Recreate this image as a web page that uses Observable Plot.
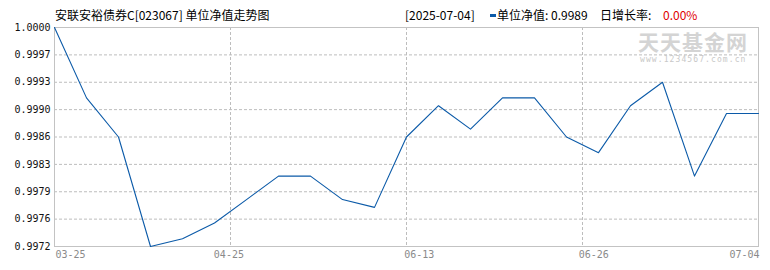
<!DOCTYPE html>
<html><head><meta charset="utf-8">
<script src="https://cdn.jsdelivr.net/npm/d3@7"></script>
<script src="https://cdn.jsdelivr.net/npm/@observablehq/plot@0.6"></script>
<style>
body{margin:0;background:#fff;}
#wrap{position:relative;width:770px;height:270px;font-family:"Noto Sans CJK SC",sans-serif;overflow:hidden;}
.t{position:absolute;top:7px;font-size:12px;line-height:16px;white-space:nowrap;color:#000;}
.wm{position:absolute;left:638px;top:30px;font-size:21px;font-weight:bold;color:#d4d4d4;letter-spacing:1px;line-height:22px;white-space:nowrap;}
.wm2{position:absolute;left:640px;top:56px;font-family:"DejaVu Sans Mono",monospace;font-size:8px;color:#c8c8c8;letter-spacing:1.1px;line-height:8px;white-space:nowrap;}
#plot{position:absolute;left:0;top:0;}
</style></head><body><div id="wrap"></div>
<script>
// ---- data ----
const fundTitle = "安联安裕债券C[023067] 单位净值走势图";
const latestDate = "[2025-07-04]";
const navLabel = "单位净值: 0.9989";
const growthLabel = "日增长率:";
const growthValue = "0.00%";
const navValues = [1.0000, 0.9991, 0.9986, 0.9972, 0.9973, 0.9975, 0.9978, 0.9981, 0.9981, 0.9978, 0.9977,
                   0.9986, 0.9990, 0.9987, 0.9991, 0.9991, 0.9986, 0.9984, 0.9990, 0.9993, 0.9981, 0.9989, 0.9989];
const yTicks = [0.9972, 0.99755, 0.9979, 0.99825, 0.9986, 0.99895, 0.9993, 0.99965, 1.0000];
const yTickLabels = ["0.9972", "0.9976", "0.9979", "0.9983", "0.9986", "0.9990", "0.9993", "0.9997", "1.0000"];
const xGridPos = [5.5, 11, 16.5];
const xTickLabels = ["03-25", "04-25", "06-13", "06-26", "07-04"];
const xTickPos = [0, 5.45, 11.4, 16.85, 22];

const data = navValues.map((v, i) => ({i, v}));
const ticks = xTickLabels.map((label, k) => ({label, x: xTickPos[k]}));
const lastIdx = navValues.length - 1;

const chart = Plot.plot({
  width: 770, height: 270,
  marginLeft: 54, marginRight: 12, marginTop: 27, marginBottom: 24,
  style: {fontFamily: '"DejaVu Sans Mono", monospace', fontSize: "10px", background: "transparent", overflow: "visible"},
  x: {domain: [0, lastIdx], axis: null},
  y: {domain: [d3.min(navValues), d3.max(navValues)], axis: null},
  marks: [
    Plot.gridY(yTicks.slice(1, -1), {stroke: "#bdbdbd", strokeOpacity: 1, strokeDasharray: "3,2"}),
    Plot.gridX(xGridPos, {stroke: "#bdbdbd", strokeOpacity: 1, strokeDasharray: "3,2"}),
    Plot.frame({stroke: "#c3c3c3"}),
    Plot.line(data, {x: "i", y: "v", stroke: "#0b5aa8", strokeWidth: 1.1}),
    Plot.axisY(yTicks, {tickSize: 0, tickPadding: 4, label: null, tickFormat: (d, i) => yTickLabels[yTicks.indexOf(d)], fill: "#111"}),
    Plot.text(ticks.slice(0, 1), {x: "x", text: "label", frameAnchor: "bottom", dy: 11, textAnchor: "start", dx: 1, fill: "#8a8a8a"}),
    Plot.text(ticks.slice(1, -1), {x: "x", text: "label", frameAnchor: "bottom", dy: 11, textAnchor: "middle", fill: "#8a8a8a"}),
    Plot.text(ticks.slice(-1), {x: "x", text: "label", frameAnchor: "bottom", dy: 11, textAnchor: "end", dx: 1, fill: "#8a8a8a"})
  ]
});

const wrap = document.getElementById("wrap");
wrap.innerHTML = `
  <div class="wm">天天基金网</div>
  <div class="wm2">www.1234567.com.cn</div>
  <div class="t" style="left:55px">${fundTitle}</div>
  <div class="t" style="left:405px">${latestDate}</div>
  <div style="position:absolute;left:490px;top:14px;width:6px;height:3px;background:#0b5aa8"></div>
  <div class="t" style="left:497px">${navLabel}</div>
  <div class="t" style="left:600px">${growthLabel}</div>
  <div class="t" style="left:663px;color:#e00000">${growthValue}</div>`;
chart.id = "plot";
wrap.insertBefore(chart, wrap.firstChild.nextSibling);
</script></body></html>
